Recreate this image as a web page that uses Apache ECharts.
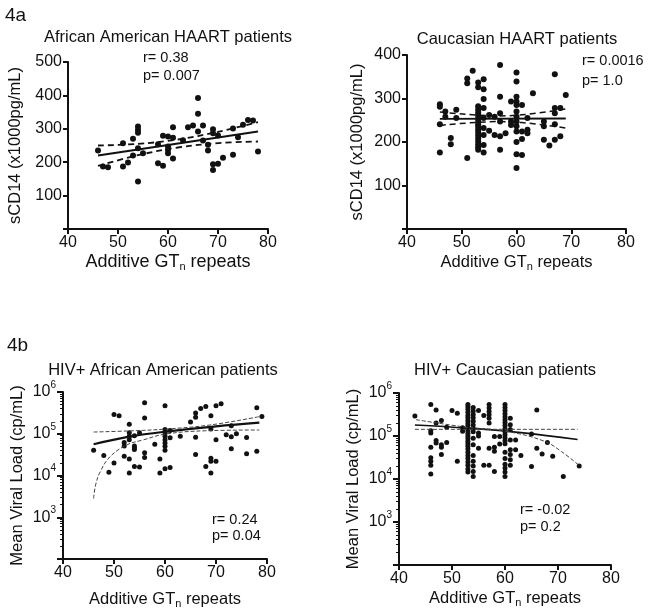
<!DOCTYPE html>
<html>
<head>
<meta charset="utf-8">
<script src="https://cdn.jsdelivr.net/npm/echarts@6/dist/echarts.min.js"></script>
<style>
  html, body { margin: 0; padding: 0; background: #fff; }
  #main { width: 650px; height: 616px; }
</style>
</head>
<body>
<div id="main"></div>
<script>
// 4a: sCD14 vs GTn repeats, values grouped by repeat count
var aaHaartGt = [46, 47, 48, 51, 52, 53, 54, 55, 58, 59, 60, 61, 63, 64, 65, 66, 67, 68, 69, 70, 71, 73, 74, 75, 76, 77, 78];
var aaHaartVals = [[235], [187], [185], [257, 187], [199], [270, 220], [307, 297, 288, 242, 142], [227],
  [254, 197], [279, 189], [277, 247, 237, 227], [305, 273, 211], [266], [305], [310], [392, 345, 292],
  [310, 265], [252, 235], [299, 287, 194, 177], [280, 195], [213], [301, 222], [275], [312], [326], [325], [232]];
var aaHaartFitX = [46, 78];
var aaHaartFit = [220, 292];
var aaHaartBandX = [46, 54, 62, 70, 78];
var aaHaartUpper = [250, 255, 268, 291, 320];
var aaHaartLower = [189, 221, 244, 257, 262];

var caHaartGt = [46, 47, 48, 49, 51, 52, 53, 54, 55, 56, 57, 58, 59, 60, 61, 62, 63, 65, 66, 67, 68, 69];
var caHaartVals = [[287, 281, 241, 176], [270, 258], [209, 195], [274, 255], [346, 335, 163], [364],
  [337, 326, 282, 275, 268, 262, 255, 248, 241, 235, 228, 222, 215, 208, 201, 194, 188, 182],
  [344, 321, 299, 278, 255, 232, 216, 193, 176], [262, 226], [258, 216], [377, 304, 266, 247, 213, 182],
  [220], [293, 247, 239], [360, 339, 304, 293, 285, 270, 258, 247, 236, 224, 200, 172, 140],
  [285, 224, 207, 170], [255, 228, 220], [312], [247, 236, 205], [192], [356, 278, 266, 241, 205],
  [278, 213], [308]];
var caHaartFitX = [46, 69];
var caHaartFit = [253, 254];
var caHaartBandX = [46, 57, 69];
var caHaartUpper = [269, 260, 276];
var caHaartLower = [238, 247, 232];

// 4b: viral load (cp/mL)
var aaViralGt = [46, 48, 49, 50, 51, 52, 53, 54, 55, 56, 58, 59, 60, 61, 63, 65, 66, 67, 68, 69, 70, 71, 72, 73, 74, 76, 78, 79];
var aaViralVals = [[40000], [30000], [12000], [290000, 20000], [270000], [62000, 51000, 29000],
  [170000, 105000, 87000, 72000, 25000, 11500], [89000, 51000, 46000, 42000, 16500], [105000, 16000],
  [550000, 240000, 35000, 27000], [56000], [25000, 11500],
  [470000, 126000, 105000, 87000, 72000, 60000, 50000, 40000, 14500], [120000, 80000, 15500], [87000],
  [190000], [316000, 250000, 83000, 32000], [400000], [450000, 16500],
  [270000, 130000, 26000, 22000, 11500], [470000, 72000, 22000], [520000], [95000],
  [155000, 85000, 44000], [100000], [81000, 33000], [420000, 38000], [260000]];
var aaViralFitX = [46, 53, 60, 70, 78.5];
var aaViralFit = [56000, 85000, 112000, 150000, 184000];
var aaViralUpperX = [46, 53, 60, 68.8, 78.5];
var aaViralUpper = [110000, 117000, 129000, 162000, 257000];
var aaViralLowerX = [46, 46.4, 47.3, 49.2, 52.5, 55.7, 60, 68, 78.5];
var aaViralLower = [2800, 6000, 12300, 28000, 54000, 71000, 98000, 118000, 123000];

var caViralGt = [43, 46, 47, 48, 49, 50, 51, 52, 53, 54, 55, 56, 57, 58, 59, 60, 61, 62, 63, 65, 66, 67, 68, 69, 71, 74];
var caViralVals = [[290000], [540000, 132000, 118000, 55000, 31000, 26000, 21000, 13000],
  [400000, 200000, 79000, 69000], [230000, 63000, 55000, 37000], [160000, 71000], [390000],
  [340000, 26000], [155000, 129000],
  [540000, 480000, 420000, 355000, 300000, 265000, 230000, 200000, 175000, 150000, 132000, 115000, 100000,
   87000, 76000, 66000, 58000, 50000, 42000, 35000, 30000, 25000, 21000, 17000, 14500],
  [460000, 380000, 315000, 265000, 220000, 180000, 150000, 126000, 89000, 63000, 35000, 26000, 20000, 15000, 11500],
  [390000, 118000, 100000, 52000], [300000, 21000], [540000, 450000, 370000, 310000, 260000, 200000, 52000, 21000],
  [98000, 55000, 44000, 15000], [98000, 65000],
  [540000, 460000, 390000, 330000, 280000, 240000, 205000, 175000, 148000, 126000, 107000, 91000, 78000,
   66000, 42000, 30000, 22000, 18000, 14500, 11500],
  [260000, 182000, 141000, 81000, 48000, 37000, 28000, 21000], [81000, 48000], [35000], [112000, 19500],
  [400000, 52000], [38000], [71000], [34000], [11500], [20000]];
var caViralFitX = [43, 53, 63, 73.7];
var caViralFit = [180000, 152000, 120000, 83000];
var caViralFlatX = [43, 73.7];
var caViralFlat = [143000, 143000];
var caViralCurveX = [43.2, 51.8, 60.6, 67.5, 70.7, 74.2];
var caViralCurve = [240000, 166000, 126000, 75000, 43000, 19700];

var FONT = 'Liberation Sans, Arial, sans-serif';
var INK = '#111';

// minor ticks of a log axis: 2..9 times each decade between 10^2 and 10^6
var logMinor = [];
[100, 1000, 10000, 100000].forEach(function (d) {
  for (var k = 2; k <= 9; k++) logMinor.push(k * d);
});

function pairs(gt, vals) {
  var out = [];
  gt.forEach(function (g, i) {
    vals[i].forEach(function (v) { out.push([g, v]); });
  });
  return out;
}
function zip(xs, ys) {
  return xs.map(function (x, i) { return [x, ys[i]]; });
}

function xAxisOf(i, nameSize, gap) {
  return {
    gridIndex: i, type: 'value', min: 40, max: 80, interval: 10,
    name: 'Additive GT{sub|n} repeats', nameLocation: 'middle', nameGap: gap,
    nameTextStyle: {
      color: INK, fontSize: nameSize, fontFamily: FONT,
      rich: { sub: { fontSize: 11, fontFamily: FONT, color: INK, verticalAlign: 'bottom', padding: [8, 0, 0, 0] } }
    },
    axisLine: { show: true, onZero: false, lineStyle: { color: INK, width: 2 } },
    axisTick: { show: true, length: 5, lineStyle: { color: INK, width: 2 } },
    axisLabel: { color: INK, fontSize: 16, fontFamily: FONT, margin: 6 },
    splitLine: { show: false }
  };
}
function linearY(i, max, name, gap) {
  return {
    gridIndex: i, type: 'value', min: 0, max: max, interval: 100,
    name: name, nameLocation: 'middle', nameGap: gap,
    nameTextStyle: { color: INK, fontSize: 16.5, fontFamily: FONT },
    axisLine: { show: true, onZero: false, lineStyle: { color: INK, width: 2 } },
    axisTick: { show: true, length: 5, lineStyle: { color: INK, width: 2 } },
    axisLabel: {
      color: INK, fontSize: 16, fontFamily: FONT, margin: 6,
      formatter: function (v) { return v === 0 ? '' : String(v); }
    },
    splitLine: { show: false }
  };
}
function logY(i, gap) {
  return {
    gridIndex: i, type: 'log', logBase: 10, min: 100, max: 1000000, splitNumber: 4,
    name: 'Mean Viral Load (cp/mL)', nameLocation: 'middle', nameGap: gap,
    nameTextStyle: { color: INK, fontSize: 16.5, fontFamily: FONT },
    axisLine: { show: true, onZero: false, lineStyle: { color: INK, width: 2 } },
    axisTick: { show: true, length: 6, lineStyle: { color: INK, width: 2 } },
    axisLabel: {
      color: INK, fontSize: 16, fontFamily: FONT, margin: 7,
      formatter: function (v) {
        if (v < 1000) return '';
        return '10{sup|' + Math.round(Math.log10(v)) + '}';
      },
      rich: { sup: { fontSize: 10, fontFamily: FONT, color: INK, verticalAlign: 'top', padding: [0, 0, 14, 0] } }
    },
    splitLine: { show: false }
  };
}
function logMinorY(i) {
  return {
    gridIndex: i, type: 'log', logBase: 10, min: 100, max: 1000000, position: 'left', offset: 0,
    axisLine: { show: false },
    axisTick: { show: true, length: 3, customValues: logMinor, lineStyle: { color: INK, width: 1 } },
    axisLabel: { show: false },
    splitLine: { show: false }
  };
}

function dots(i, data, size) {
  return {
    type: 'scatter', xAxisIndex: i, yAxisIndex: i, data: data,
    symbol: 'circle', symbolSize: size, itemStyle: { color: INK, opacity: 1 }, silent: true, z: 3
  };
}
function line(i, data, width, dash, color, smooth) {
  return {
    type: 'line', xAxisIndex: i, yAxisIndex: i, data: data,
    showSymbol: false, symbol: 'none', smooth: smooth ? 0.4 : false, silent: true, z: 4,
    lineStyle: { color: color || INK, width: width, type: dash || 'solid' }
  };
}
function label(x, y, text, size, align) {
  return {
    type: 'text', x: x, y: y, silent: true,
    style: { text: text, fill: INK, font: size + 'px ' + FONT, textAlign: align || 'left', textVerticalAlign: 'middle' }
  };
}

var chart = echarts.init(document.getElementById('main'));
chart.setOption({
  animation: false,
  backgroundColor: '#fff',
  grid: [
    { left: 68, top: 62, width: 200, height: 167, outerBoundsMode: 'none' },
    { left: 407, top: 55, width: 219, height: 174, outerBoundsMode: 'none' },
    { left: 63, top: 392, width: 204, height: 167, outerBoundsMode: 'none' },
    { left: 399, top: 393, width: 212, height: 172, outerBoundsMode: 'none' }
  ],
  xAxis: [xAxisOf(0, 18, 24), xAxisOf(1, 16.5, 24), xAxisOf(2, 16.5, 31), xAxisOf(3, 16.5, 24)],
  yAxis: [
    linearY(0, 500, 'sCD14 (x1000pg/mL)', 44),
    linearY(1, 400, 'sCD14 (x1000pg/mL)', 41),
    logY(2, 37),
    logY(3, 37),
    logMinorY(2),
    logMinorY(3)
  ],
  series: [
    dots(0, pairs(aaHaartGt, aaHaartVals), 6),
    line(0, zip(aaHaartFitX, aaHaartFit), 2),
    line(0, zip(aaHaartBandX, aaHaartUpper), 1.8, [6, 4], INK, true),
    line(0, zip(aaHaartBandX, aaHaartLower), 1.8, [6, 4], INK, true),

    dots(1, pairs(caHaartGt, caHaartVals), 6),
    line(1, zip(caHaartFitX, caHaartFit), 1.8),
    line(1, zip(caHaartBandX, caHaartUpper), 1.5, [6, 4], INK, true),
    line(1, zip(caHaartBandX, caHaartLower), 1.5, [6, 4], INK, true),

    dots(2, pairs(aaViralGt, aaViralVals), 5),
    line(2, zip(aaViralFitX, aaViralFit), 2.2, 'solid', INK, true),
    line(2, zip(aaViralUpperX, aaViralUpper), 1, [4, 2], '#444', true),
    line(2, zip(aaViralLowerX, aaViralLower), 1, [4, 2], '#444', true),

    dots(3, pairs(caViralGt, caViralVals), 5),
    line(3, zip(caViralFitX, caViralFit), 1.6, 'solid', INK, true),
    line(3, zip(caViralFlatX, caViralFlat), 1, [4, 2], '#444'),
    line(3, zip(caViralCurveX, caViralCurve), 1, [4, 2], '#444', true)
  ],
  graphic: [
    label(5, 16, '4a', 19),
    label(168, 37, 'African American HAART patients', 16.5, 'center'),
    label(143, 58, 'r= 0.38', 14.5),
    label(143, 76, 'p= 0.007', 14.5),
    label(517, 39, 'Caucasian HAART patients', 16.5, 'center'),
    label(582, 61, 'r= 0.0016', 14.5),
    label(582, 81, 'p= 1.0', 14.5),
    label(7, 346, '4b', 19),
    label(163, 370, 'HIV+ African American patients', 16.5, 'center'),
    label(212, 520, 'r= 0.24', 14.5),
    label(212, 536, 'p= 0.04', 14.5),
    label(505, 370, 'HIV+ Caucasian patients', 16.5, 'center'),
    label(520, 510, 'r= -0.02', 14.5),
    label(520, 527, 'p= 0.2', 14.5)
  ]
});
</script>
</body>
</html>
